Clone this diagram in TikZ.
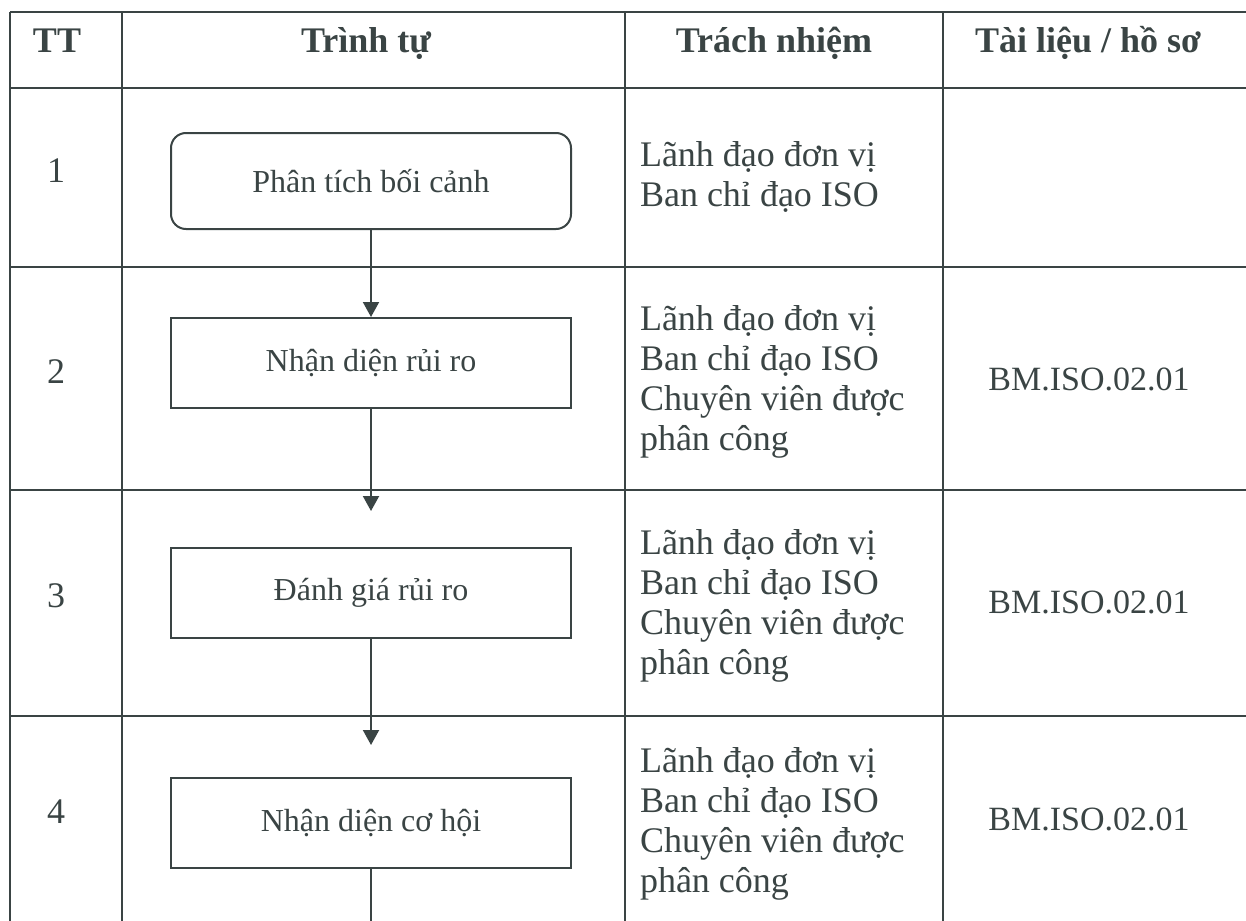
\documentclass[tikz,border=0pt]{standalone}
\usepackage{fontspec}
\setmainfont{Liberation Serif}
\usepackage{xcolor}
\usetikzlibrary{positioning,arrows.meta}
\definecolor{inkgray}{RGB}{58,68,68}

\begin{document}
\begin{tikzpicture}[x=0.5pt, y=-0.5pt, line width=1pt, color=inkgray,
    headcell/.style={font=\fontsize{18}{20}\selectfont\bfseries, anchor=base},
    numcell/.style={font=\fontsize{18}{20}\selectfont, anchor=base},
    doccell/.style={font=\fontsize{17}{20}\selectfont, anchor=base},
    respcell/.style={font=\fontsize{18}{20}\selectfont, align=left, anchor=west, inner sep=0pt},
    stepbox/.style={draw, minimum width=200pt, minimum height=45pt, inner sep=0pt, font=\fontsize{16}{18}\selectfont},
    startbox/.style={stepbox, rounded corners=7.5pt, minimum height=48pt},
    flow/.style={-{Triangle[length=7.5pt,width=8pt]}}]

    % Frame
    \useasboundingbox (0,0) rectangle (1246,920);
    \clip (0,0) rectangle (1246,920);

    % Table grid
    \draw (10,12) -- (1260,12);
    \draw (10,88) -- (1260,88);
    \draw (10,267) -- (1260,267);
    \draw (10,490) -- (1260,490);
    \draw (10,716) -- (1260,716);
    \draw (10,12) -- (10,930);
    \draw (122,12) -- (122,930);
    \draw (625,12) -- (625,930);
    \draw (943,12) -- (943,930);

    % Header
    \node[headcell] (hTT) at (57,53) {TT};
    \node[headcell] (hTrinhTu) at (366,53) {Trình tự};
    \node[headcell] (hTrachNhiem) at (774,53) {Trách nhiệm};
    \node[headcell] (hTaiLieu) at (1088,53) {Tài liệu / hồ sơ};

    % Row numbers
    \node[numcell] (tt1) at (56,182) {1};
    \node[numcell] (tt2) at (56,383) {2};
    \node[numcell] (tt3) at (56,607) {3};
    \node[numcell] (tt4) at (56,823) {4};

    % Flow steps
    \node[startbox] (phanTich) at (371,181) {Phân tích bối cảnh};
    \node[stepbox] (nhanDienRR) at (371,363) {Nhận diện rủi ro};
    \node[stepbox] (danhGiaRR) at (371,593) {Đánh giá rủi ro};
    \node[stepbox] (nhanDienCH) at (371,823) {Nhận diện cơ hội};
    \coordinate (flowEnd) at (371,930);

    \draw[flow] (phanTich) -- (nhanDienRR);
    \draw[flow, shorten >=18pt] (nhanDienRR) -- (danhGiaRR);
    \draw[flow, shorten >=16pt] (danhGiaRR) -- (nhanDienCH);
    \draw (nhanDienCH) -- (flowEnd);

    % Responsibility
    \node[respcell] (resp1) at (639,177) {Lãnh đạo đơn vị\\Ban chỉ đạo ISO};
    \node[respcell] (resp2) at (639,382) {Lãnh đạo đơn vị\\Ban chỉ đạo ISO\\Chuyên viên được\\phân công};
    \node[respcell] (resp3) at (639,606) {Lãnh đạo đơn vị\\Ban chỉ đạo ISO\\Chuyên viên được\\phân công};
    \node[respcell] (resp4) at (639,824) {Lãnh đạo đơn vị\\Ban chỉ đạo ISO\\Chuyên viên được\\phân công};

    % Documents
    \node[doccell] (doc2) at (1089,390) {BM.ISO.02.01};
    \node[doccell] (doc3) at (1089,613) {BM.ISO.02.01};
    \node[doccell] (doc4) at (1089,830) {BM.ISO.02.01};
\end{tikzpicture}
\end{document}
